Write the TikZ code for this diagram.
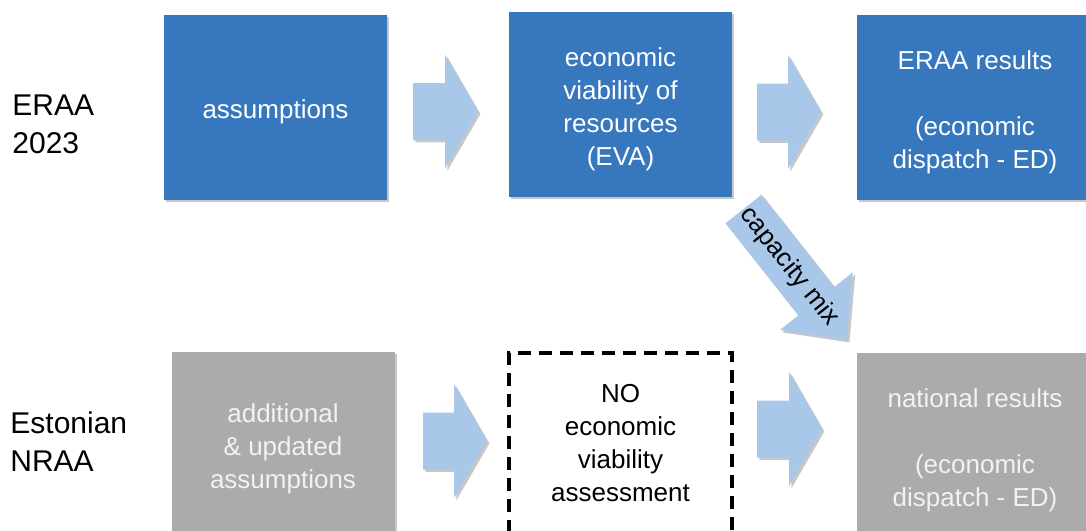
\documentclass[tikz,border=0pt]{standalone}
\usepackage{fontspec}
\setmainfont{Liberation Sans}
\usetikzlibrary{calc,positioning,shadows}
\definecolor{eraablue}{HTML}{3677BD}
\definecolor{flowarrow}{HTML}{A9C7E8}
\definecolor{nraagrey}{HTML}{ABABAB}
\definecolor{paletext}{HTML}{F2F2F2}

\tikzset{
  softshadow/.style={drop shadow={shadow xshift=1.2pt,shadow yshift=-1.2pt,opacity=0.22,fill=black}},
  stagebox/.style={minimum width=111.5pt,minimum height=92.5pt,inner sep=2pt,align=center,
    font=\fontsize{13}{16.5}\selectfont,
    execute at end node=\rule[-3.5pt]{0pt}{3.5pt}},
  bluebox/.style={stagebox,fill=eraablue,text=white,softshadow},
  greybox/.style={stagebox,fill=nraagrey,text=paletext,softshadow},
  dashbox/.style={stagebox,draw=black,line width=2pt,dash pattern=on 6.5pt off 4pt},
  rowlabel/.style={anchor=west,inner sep=0pt,align=left,font=\fontsize{15}{19}\selectfont},
  arrowfill/.style={fill=flowarrow,softshadow}
}

% extra room above the first line of a box text
\newcommand{\topstrut}[1][14.5pt]{\rule{0pt}{#1}}

% block arrow: tail, tip, half shaft width, half head width, head length
\newcommand{\blockarrow}[5]{%
  \coordinate (hb) at ($(#2)!#5!(#1)$);
  \fill[arrowfill] ($(#1)!#3!90:(#2)$) -- ($(hb)!#3!90:(#2)$) -- ($(hb)!#4!90:(#2)$) -- (#2)
    -- ($(hb)!#4!-90:(#2)$) -- ($(hb)!#3!-90:(#2)$) -- ($(#1)!#3!-90:(#2)$) -- cycle;
}

\begin{document}
\begin{tikzpicture}[x=0.5pt,y=-0.5pt]
\clip (0,0) rectangle (1086,530);

\node[rowlabel] (eraalab) at (12,124) {ERAA\\2023};
\node[rowlabel] (nraalab) at (10,441.5) {Estonian\\NRAA};

% upper row
\node[bluebox] (assum) at (275.5,107.5) {\topstrut assumptions};
\node[bluebox] (eva) at (620.5,104.5) {\topstrut economic\\viability of\\resources\\(EVA)};
\node[bluebox,minimum width=118pt] (eraares) at (975,107.5) {\topstrut ERAA results\\[16.5pt](economic\\dispatch - ED)};

% lower row
\node[greybox] (addass) at (283,444.5) {\topstrut additional\\\& updated\\assumptions};
\node[dashbox] (noeva) at (620.5,445.5) {\topstrut[10pt]NO\\economic\\viability\\assessment};
\node[greybox,minimum width=118pt] (natres) at (975,445.5) {\topstrut national results\\[16.5pt](economic\\dispatch - ED)};

\foreach \n/\sx/\tx/\y in {a1/413/478/111.5,a2/757/821/112,a3/423/487/441,a4/757/822/429}
{
\coordinate (\n-tail) at (\sx,\y);
\coordinate (\n-tip) at (\tx,\y);
\blockarrow{\n-tail}{\n-tip}{14.25pt}{28.5pt}{16.5pt}
}

% capacity mix handed down to the national run
\coordinate (mix-tail) at (743.5,209);
\coordinate (mix-tip) at (847,340);
\blockarrow{mix-tail}{mix-tip}{11.5pt}{23.25pt}{24.75pt}
\path (mix-tail) -- (mix-tip) node[pos=0.44,sloped,font=\fontsize{13}{15}\selectfont] (mixlab) {capacity mix};
\end{tikzpicture}
\end{document}
